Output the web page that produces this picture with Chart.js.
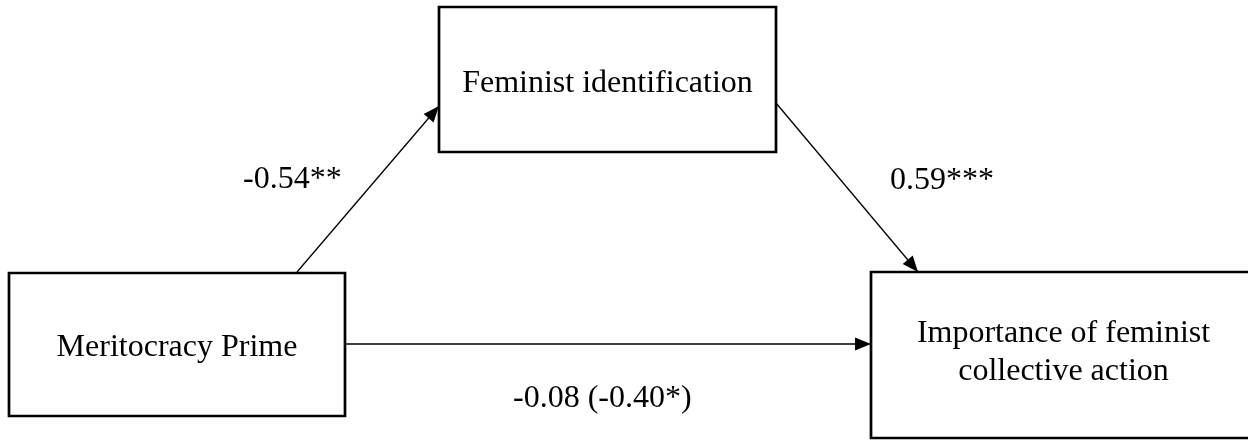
<!DOCTYPE html>
<html>
<head>
<meta charset="utf-8">
<script src="https://cdn.jsdelivr.net/npm/chart.js@4.4.0/dist/chart.umd.min.js"></script>
<style>
  html, body { margin: 0; padding: 0; background: #fff; }
  #wrap { width: 1248px; height: 440px; }
</style>
</head>
<body>
<div id="wrap"><canvas id="myChart" width="1248" height="440"></canvas></div>
<script>
// mediation model: nodes and path coefficients
const boxNames = ['Meritocracy Prime', 'Feminist identification', 'Importance of feminist|collective action'];
// node rectangles in diagram units (x 0..1248, y 0..440, y down)
const boxLeft   = [9, 439, 871];
const boxTop    = [273, 7, 272];
const boxRight  = [345, 776, 1256];
const boxBottom = [416, 152, 438];

// paths: from -> to, start and end points
const pathFrom = [0, 1, 0];
const pathTo   = [1, 2, 2];
const pathStart = [[297, 272], [776, 103], [345, 344]];
const pathEnd   = [[439, 106], [918, 272], [871, 344]];
const pathLabels = ['-0.54**', '0.59***', '-0.08 (-0.40*)'];
const labelPos = [[243, 188], [890, 189], [513, 407]];

const FONT = '32px "Liberation Serif", "Times New Roman", serif';

const datasets = [];

// rectangles as closed lines
boxNames.forEach((name, i) => {
    datasets.push({
        label: name,
        data: [
            {x: boxLeft[i], y: boxTop[i]},
            {x: boxRight[i], y: boxTop[i]},
            {x: boxRight[i], y: boxBottom[i]},
            {x: boxLeft[i], y: boxBottom[i]},
            {x: boxLeft[i], y: boxTop[i]}
        ],
        showLine: true,
        borderColor: '#000',
        borderWidth: 2.7,
        borderJoinStyle: 'miter',
        borderCapStyle: 'square',
        pointRadius: 0,
        fill: false,
        tension: 0
    });
});

// arrows
pathLabels.forEach((lab, i) => {
    datasets.push({
        label: lab,
        data: [
            {x: pathStart[i][0], y: pathStart[i][1]},
            {x: pathEnd[i][0], y: pathEnd[i][1]}
        ],
        showLine: true,
        borderColor: '#000',
        borderWidth: 1.3,
        pointRadius: 0,
        fill: false,
        isArrow: true
    });
});

// arrowheads and texts
const diagramText = {
    id: 'diagramText',
    afterDatasetsDraw(chart) {
        const ctx = chart.ctx;
        const xs = chart.scales.x, ys = chart.scales.y;
        ctx.save();

        // arrowheads
        ctx.fillStyle = '#000';
        for (let i = 0; i < pathLabels.length; i++) {
            const x1 = xs.getPixelForValue(pathStart[i][0]), y1 = ys.getPixelForValue(pathStart[i][1]);
            const x2 = xs.getPixelForValue(pathEnd[i][0]),   y2 = ys.getPixelForValue(pathEnd[i][1]);
            const a = Math.atan2(y2 - y1, x2 - x1);
            const len = 16, half = 6.5;
            ctx.beginPath();
            ctx.moveTo(x2, y2);
            ctx.lineTo(x2 - len * Math.cos(a) + half * Math.sin(a), y2 - len * Math.sin(a) - half * Math.cos(a));
            ctx.lineTo(x2 - len * Math.cos(a) - half * Math.sin(a), y2 - len * Math.sin(a) + half * Math.cos(a));
            ctx.closePath();
            ctx.fill();
        }

        // box texts
        ctx.font = FONT;
        ctx.textAlign = 'center';
        ctx.textBaseline = 'alphabetic';
        const baselines = [[356], [92], [342, 380]];
        boxNames.forEach((name, i) => {
            const cx = xs.getPixelForValue((boxLeft[i] + boxRight[i]) / 2);
            name.split('|').forEach((line, j) => {
                ctx.fillText(line, cx, ys.getPixelForValue(baselines[i][j]));
            });
        });

        // path coefficients
        ctx.textAlign = 'left';
        pathLabels.forEach((lab, i) => {
            ctx.fillText(lab, xs.getPixelForValue(labelPos[i][0]), ys.getPixelForValue(labelPos[i][1]));
        });
        ctx.restore();
    }
};

const ctx = document.getElementById('myChart').getContext('2d');
new Chart(ctx, {
    type: 'scatter',
    data: { datasets: datasets },
    options: {
        responsive: false,
        animation: false,
        layout: { padding: 0 },
        scales: {
            x: { type: 'linear', min: 0, max: 1248, display: false },
            y: { type: 'linear', min: 0, max: 440, reverse: true, display: false }
        },
        plugins: {
            legend: { display: false },
            tooltip: { enabled: false }
        }
    },
    plugins: [diagramText]
});
</script>
</body>
</html>
